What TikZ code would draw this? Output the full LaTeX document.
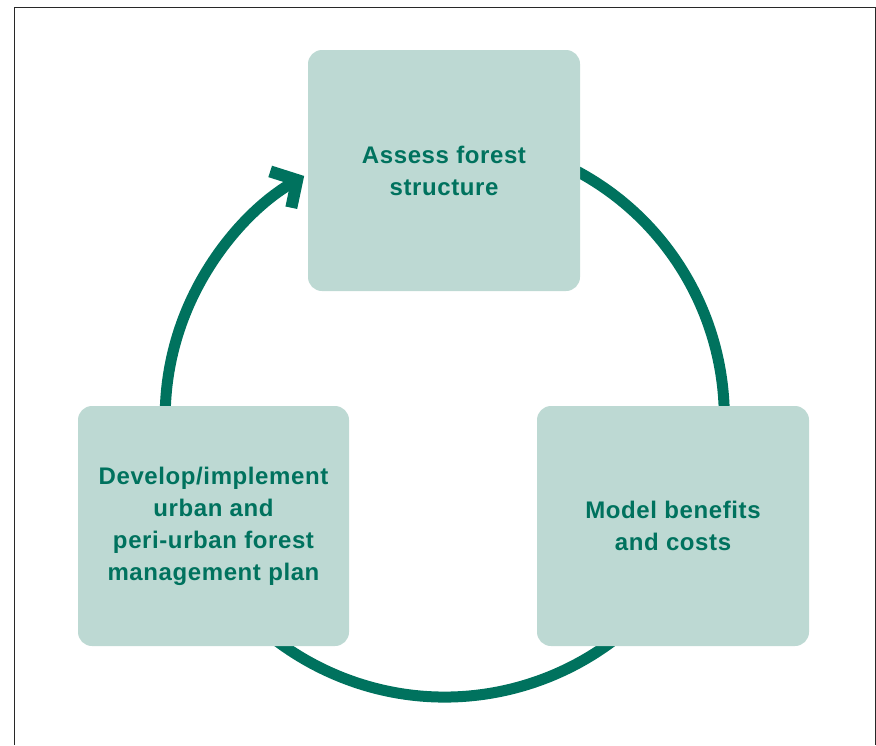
\documentclass[tikz,border=0pt]{standalone}
\usepackage{fontspec}
\setmainfont{Liberation Sans}[LetterSpace=2.5]
\usetikzlibrary{arrows.meta,backgrounds}
\definecolor{boxfill}{RGB}{189,217,211}
\definecolor{darkgreen}{RGB}{0,114,94}
\definecolor{framegray}{RGB}{40,40,40}
\tikzset{
  stagebox/.style={fill=boxfill, draw=none, rounded corners=14pt, minimum width=272pt, minimum height=241pt, inner sep=0pt, align=center, text=darkgreen, font=\fontsize{24}{32}\selectfont\bfseries},
  cyclearc/.style={draw=darkgreen, line width=11pt, line cap=butt},
}
\begin{document}
\begin{tikzpicture}[x=1pt,y=-1pt]
\useasboundingbox (0,0) rectangle (876,745);
\draw[framegray, line width=1pt] (14,745) -- (14,7) -- (875,7) -- (875,745);
\coordinate (c) at (444.75,417.5);
\node[stagebox] (assess) at (444,170.5) {Assess forest\\structure};
\node[stagebox, minimum width=271pt, minimum height=240pt] (develop) at (213.5,526) {Develop/implement\\urban and\\peri-urban forest\\management plan};
\node[stagebox, minimum width=272pt, minimum height=240pt] (model) at (673,526) {Model benefits\\and costs};
\begin{pgfonlayer}{background}
\draw[cyclearc, -{Straight Barb[length=19pt, width=42pt, line width=12pt, line join=miter]}]
  (c) ++(-66:279.5) arc[start angle=-66, end angle=239.8, radius=279.5];
\end{pgfonlayer}
\end{tikzpicture}
\end{document}
